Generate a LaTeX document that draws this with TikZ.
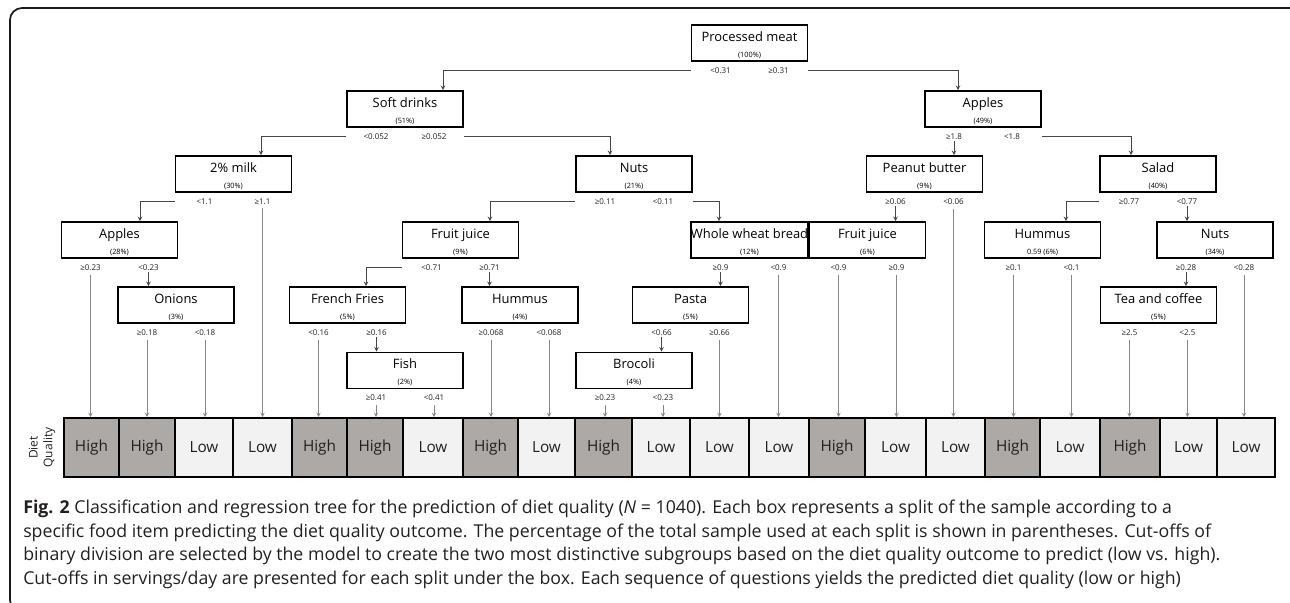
\documentclass[tikz,border=0pt]{standalone}
\usepackage{fontspec}
\setmainfont{Open Sans}
\usepackage{tikz}
\usetikzlibrary{arrows,positioning}
\usepackage{xcolor}
\definecolor{dqhigh}{RGB}{173,169,167}
\definecolor{dqlow}{RGB}{242,242,242}
\definecolor{dqline}{RGB}{70,70,70}
\definecolor{dqgray}{RGB}{135,135,135}
\definecolor{dqtext}{RGB}{35,31,32}
\tikzstyle{split} = [rectangle, minimum width=87pt, minimum height=27pt, inner sep=0pt, text height=24.3pt, text depth=2.7pt, text centered, align=center, draw=black, fill=white, line width=1.2pt, font=\fontsize{9.7}{10}\selectfont]
\tikzstyle{cut} = [inner sep=1pt, text=dqtext, font=\fontsize{6}{6}\selectfont]
\tikzstyle{leaf} = [rectangle, minimum height=44.3pt, draw=black, line width=1.2pt, text=dqtext, font=\fontsize{11.5}{12}\selectfont]
\tikzstyle{high} = [leaf, fill=dqhigh]
\tikzstyle{low} = [leaf, fill=dqlow]
\tikzstyle{cellw} = [minimum width=#1*0.75pt]
\tikzstyle{arrow} = [line width=0.6pt, ->, >=stealth, color=dqline]
\tikzstyle{drop} = [line width=0.5pt, ->, >=stealth, color=dqgray, shorten <=2pt]
\newcommand{\pct}[1]{\\[2.3pt]{\fontsize{5.5}{6}\selectfont #1}}

\begin{document}
\begin{tikzpicture}[x=0.75pt, y=-0.75pt]
\useasboundingbox (0,0) rectangle (1290,603);
\draw[line width=1.3pt, rounded corners=9pt, color=black!90] (10,8) rectangle (1302,612);

\node (pm) [split] at (749.5,43) {Processed meat\pct{(100\%)}};
\node (sd) [split] at (405,109) {Soft drinks\pct{(51\%)}};
\node (ap) [split] at (983,109) {Apples\pct{(49\%)}};
\node (milk) [split] at (233.5,174) {2\% milk\pct{(30\%)}};
\node (nuts) [split] at (634,174) {Nuts\pct{(21\%)}};
\node (pb) [split] at (924.5,174) {Peanut butter\pct{(9\%)}};
\node (salad) [split] at (1158,174) {Salad\pct{(40\%)}};
\node (apl) [split] at (119.5,240) {Apples\pct{(28\%)}};
\node (fj) [split] at (460.5,240) {Fruit juice\pct{(9\%)}};
\node (wwb) [split] at (749.5,240) {Whole wheat bread\pct{(12\%)}};
\node (fjr) [split] at (867.5,240) {Fruit juice\pct{(6\%)}};
\node (hmr) [split] at (1042.5,240) {Hummus\pct{0.59 (6\%)}};
\node (ntr) [split] at (1215,240) {Nuts\pct{(34\%)}};
\node (on) [split] at (176,305) {Onions\pct{(3\%)}};
\node (ff) [split] at (347.5,305) {French Fries\pct{(5\%)}};
\node (hm) [split] at (520,305) {Hummus\pct{(4\%)}};
\node (pa) [split] at (690.5,305) {Pasta\pct{(5\%)}};
\node (tc) [split] at (1158.5,305) {Tea and coffee\pct{(5\%)}};
\node (fi) [split] at (405,370.5) {Fish\pct{(2\%)}};
\node (br) [split] at (634,370.5) {Brocoli\pct{(4\%)}};

\node (pmL) [cut] at ([shift={(-29,8.5)}]pm.south) {<0.31};
\node (pmR) [cut] at ([shift={(29,8.5)}]pm.south) {≥0.31};
\node (sdL) [cut] at ([shift={(-29,8.5)}]sd.south) {<0.052};
\node (sdR) [cut] at ([shift={(29,8.5)}]sd.south) {≥0.052};
\node (apL) [cut] at ([shift={(-29,8.5)}]ap.south) {≥1.8};
\node (apR) [cut] at ([shift={(29,8.5)}]ap.south) {<1.8};
\node (milkL) [cut] at ([shift={(-29,8.5)}]milk.south) {<1.1};
\node (milkR) [cut] at ([shift={(29,8.5)}]milk.south) {≥1.1};
\node (nutsL) [cut] at ([shift={(-29,8.5)}]nuts.south) {≥0.11};
\node (nutsR) [cut] at ([shift={(29,8.5)}]nuts.south) {<0.11};
\node (pbL) [cut] at ([shift={(-29,8.5)}]pb.south) {≥0.06};
\node (pbR) [cut] at ([shift={(29,8.5)}]pb.south) {<0.06};
\node (saladL) [cut] at ([shift={(-29,8.5)}]salad.south) {≥0.77};
\node (saladR) [cut] at ([shift={(29,8.5)}]salad.south) {<0.77};
\node (aplL) [cut] at ([shift={(-29,8.5)}]apl.south) {≥0.23};
\node (aplR) [cut] at ([shift={(29,8.5)}]apl.south) {<0.23};
\node (fjL) [cut] at ([shift={(-29,8.5)}]fj.south) {<0.71};
\node (fjR) [cut] at ([shift={(29,8.5)}]fj.south) {≥0.71};
\node (wwbL) [cut] at ([shift={(-29,8.5)}]wwb.south) {≥0.9};
\node (wwbR) [cut] at ([shift={(29,8.5)}]wwb.south) {<0.9};
\node (fjrL) [cut] at ([shift={(-29,8.5)}]fjr.south) {<0.9};
\node (fjrR) [cut] at ([shift={(29,8.5)}]fjr.south) {≥0.9};
\node (hmrL) [cut] at ([shift={(-29,8.5)}]hmr.south) {≥0.1};
\node (hmrR) [cut] at ([shift={(29,8.5)}]hmr.south) {<0.1};
\node (ntrL) [cut] at ([shift={(-29,8.5)}]ntr.south) {≥0.28};
\node (ntrR) [cut] at ([shift={(29,8.5)}]ntr.south) {<0.28};
\node (onL) [cut] at ([shift={(-29,8.5)}]on.south) {≥0.18};
\node (onR) [cut] at ([shift={(29,8.5)}]on.south) {<0.18};
\node (ffL) [cut] at ([shift={(-29,8.5)}]ff.south) {<0.16};
\node (ffR) [cut] at ([shift={(29,8.5)}]ff.south) {≥0.16};
\node (hmL) [cut] at ([shift={(-29,8.5)}]hm.south) {≥0.068};
\node (hmR) [cut] at ([shift={(29,8.5)}]hm.south) {<0.068};
\node (paL) [cut] at ([shift={(-29,8.5)}]pa.south) {<0.66};
\node (paR) [cut] at ([shift={(29,8.5)}]pa.south) {≥0.66};
\node (tcL) [cut] at ([shift={(-29,8.5)}]tc.south) {≥2.5};
\node (tcR) [cut] at ([shift={(29,8.5)}]tc.south) {<2.5};
\node (fiL) [cut] at ([shift={(-29,8.5)}]fi.south) {≥0.41};
\node (fiR) [cut] at ([shift={(29,8.5)}]fi.south) {<0.41};
\node (brL) [cut] at ([shift={(-29,8.5)}]br.south) {≥0.23};
\node (brR) [cut] at ([shift={(29,8.5)}]br.south) {<0.23};

\node (l0) [high, cellw=55] at (91.5,447.5) {High};
\node (l1) [high, cellw=56] at (147,447.5) {High};
\node (l2) [low, cellw=58] at (204,447.5) {Low};
\node (l3) [low, cellw=59] at (262.5,447.5) {Low};
\node (l4) [high, cellw=55] at (319.5,447.5) {High};
\node (l5) [high, cellw=56] at (375,447.5) {High};
\node (l6) [low, cellw=60] at (433,447.5) {Low};
\node (l7) [high, cellw=55] at (490.5,447.5) {High};
\node (l8) [low, cellw=57] at (546.5,447.5) {Low};
\node (l9) [high, cellw=57] at (603.5,447.5) {High};
\node (l10) [low, cellw=58] at (661,447.5) {Low};
\node (l11) [low, cellw=59] at (719.5,447.5) {Low};
\node (l12) [low, cellw=60] at (779,447.5) {Low};
\node (l13) [high, cellw=56] at (837,447.5) {High};
\node (l14) [low, cellw=61] at (895.5,447.5) {Low};
\node (l15) [low, cellw=59] at (955.5,447.5) {Low};
\node (l16) [high, cellw=55] at (1012.5,447.5) {High};
\node (l17) [low, cellw=60] at (1070,447.5) {Low};
\node (l18) [high, cellw=60] at (1130,447.5) {High};
\node (l19) [low, cellw=57] at (1188.5,447.5) {Low};
\node (l20) [low, cellw=58] at (1246,447.5) {Low};
\node (dq) [rotate=90, align=center, text=dqtext, font=\fontsize{9}{11}\selectfont] at (42,447.5) {Diet\\Quality};

\draw[arrow] (pm.west |- pmL) -| ([shift={(38,0)}]sd.north);
\draw[arrow] (pm.east |- pmR) -| ([shift={(-25,0)}]ap.north);
\draw[arrow] (sd.west |- sdL) -| ([shift={(27.5,0)}]milk.north);
\draw[arrow] (sd.east |- sdR) -| ([shift={(-24,0)}]nuts.north);
\draw[arrow] (apL.south) -- (apL.south |- pb.north);
\draw[arrow] (ap.east |- apR) -| ([shift={(-27,0)}]salad.north);
\draw[arrow] (milk.west |- milkL) -| ([shift={(20.5,0)}]apl.north);
\draw[drop] (milkR.south) -- (milkR.south |- l3.north);
\draw[arrow] (nuts.west |- nutsL) -| ([shift={(29.5,0)}]fj.north);
\draw[arrow] (nuts.east |- nutsR) -| ([shift={(-30.5,0)}]wwb.north);
\draw[arrow] (pbL.south) -- (pbL.south |- fjr.north);
\draw[drop] (pbR.south) -- (pbR.south |- l15.north);
\draw[arrow] (salad.west |- saladL) -| ([shift={(23.5,0)}]hmr.north);
\draw[arrow] (saladR.south) -- (saladR.south |- ntr.north);
\draw[drop] (aplL.south) -- (aplL.south |- l0.north);
\draw[arrow] (aplR.south) -- (aplR.south |- on.north);
\draw[arrow] (fj.west |- fjL) -| ([shift={(18.5,0)}]ff.north);
\draw[arrow] (fjR.south) -- (fjR.south |- hm.north);
\draw[arrow] (wwbL.south) -- (wwbL.south |- pa.north);
\draw[drop] (wwbR.south) -- (wwbR.south |- l12.north);
\draw[drop] (fjrL.south) -- (fjrL.south |- l13.north);
\draw[drop] (fjrR.south) -- (fjrR.south |- l14.north);
\draw[drop] (hmrL.south) -- (hmrL.south |- l16.north);
\draw[drop] (hmrR.south) -- (hmrR.south |- l17.north);
\draw[arrow] (ntrL.south) -- (ntrL.south |- tc.north);
\draw[drop] (ntrR.south) -- (ntrR.south |- l20.north);
\draw[drop] (onL.south) -- (onL.south |- l1.north);
\draw[drop] (onR.south) -- (onR.south |- l2.north);
\draw[drop] (ffL.south) -- (ffL.south |- l4.north);
\draw[arrow] (ffR.south) -- (ffR.south |- fi.north);
\draw[drop] (hmL.south) -- (hmL.south |- l7.north);
\draw[drop] (hmR.south) -- (hmR.south |- l8.north);
\draw[arrow] (paL.south) -- (paL.south |- br.north);
\draw[drop] (paR.south) -- (paR.south |- l11.north);
\draw[drop] (tcL.south) -- (tcL.south |- l18.north);
\draw[drop] (tcR.south) -- (tcR.south |- l19.north);
\draw[drop] (fiL.south) -- (fiL.south |- l5.north);
\draw[drop] (fiR.south) -- (fiR.south |- l6.north);
\draw[drop] (brL.south) -- (brL.south |- l9.north);
\draw[drop] (brR.south) -- (brR.south |- l10.north);

\node (cap) [anchor=north west, align=left, inner sep=0pt, text=dqtext, font=\fontsize{13.3}{17.6}\selectfont] at (23,500) {\textbf{Fig. 2} Classification and regression tree for the prediction of diet quality (\textit{N} = 1040). Each box represents a split of the sample according to a\\
specific food item predicting the diet quality outcome. The percentage of the total sample used at each split is shown in parentheses. Cut-offs of\\
binary division are selected by the model to create the two most distinctive subgroups based on the diet quality outcome to predict (low vs. high).\\
Cut-offs in servings/day are presented for each split under the box. Each sequence of questions yields the predicted diet quality (low or high)};
\end{tikzpicture}
\end{document}
